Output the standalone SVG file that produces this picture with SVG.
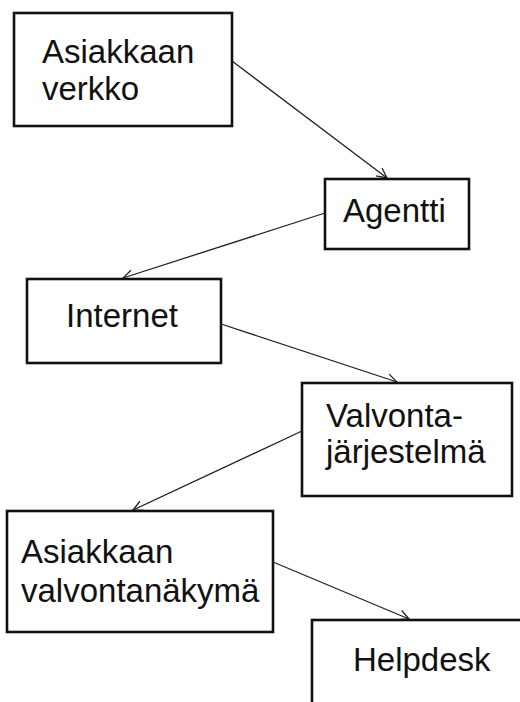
<svg xmlns="http://www.w3.org/2000/svg" width="520" height="702" viewBox="0 0 520 702">
<style>
.box{fill:#fff;stroke:#111;stroke-width:2.6}
.t{font-family:"Liberation Sans",Arial,sans-serif;font-size:33px;fill:#111}
.c{stroke:#222;stroke-width:1.3;fill:none}
</style>
<defs>
<marker id="ah" markerUnits="userSpaceOnUse" markerWidth="14" markerHeight="14" refX="11" refY="6" orient="auto" viewBox="0 0 14 12">
<path d="M1,1 L11,6 L1,11" fill="none" stroke="#222" stroke-width="1.3"/>
</marker>
</defs>
<rect width="520" height="702" fill="#fff"/>
<g id="connectors">
<line class="c" x1="232" y1="61" x2="387" y2="178" marker-end="url(#ah)"/>
<line class="c" x1="325" y1="213" x2="123" y2="278" marker-end="url(#ah)"/>
<line class="c" x1="221" y1="324" x2="397" y2="382" marker-end="url(#ah)"/>
<line class="c" x1="302" y1="431" x2="133" y2="510" marker-end="url(#ah)"/>
<line class="c" x1="273" y1="562" x2="409" y2="619" marker-end="url(#ah)"/>
</g>
<g id="asiakkaan-verkko">
<rect class="box" x="14" y="13" width="218" height="113"/>
<text class="t" x="42" y="63">Asiakkaan</text>
<text class="t" x="42" y="100">verkko</text>
</g>
<g id="agentti">
<rect class="box" x="325" y="179" width="144" height="70"/>
<text class="t" x="343" y="222">Agentti</text>
</g>
<g id="internet">
<rect class="box" x="27" y="279" width="194" height="84"/>
<text class="t" x="66" y="327">Internet</text>
</g>
<g id="valvontajarjestelma">
<rect class="box" x="302" y="383" width="210" height="113"/>
<text class="t" x="326" y="427">Valvonta-</text>
<text class="t" x="326" y="463">järjestelmä</text>
</g>
<g id="asiakkaan-valvontanakyma">
<rect class="box" x="7" y="511" width="266" height="121"/>
<text class="t" x="21" y="563">Asiakkaan</text>
<text class="t" x="21" y="602">valvontanäkymä</text>
</g>
<g id="helpdesk">
<rect class="box" x="312" y="620" width="220" height="100"/>
<text class="t" x="353" y="671">Helpdesk</text>
</g>
</svg>
